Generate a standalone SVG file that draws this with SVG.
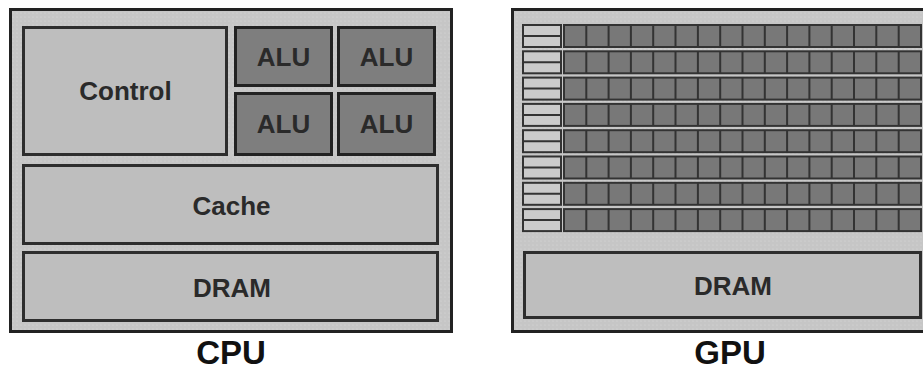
<svg xmlns="http://www.w3.org/2000/svg" xmlns:xlink="http://www.w3.org/1999/xlink" width="923" height="371" viewBox="0 0 923 371">
<style>
.frame{fill:#c6c6c6;stroke:#222;stroke-width:3}
.light{fill:#bebebe;stroke:#2e2e2e;stroke-width:3}
.alu{fill:#7e7e7e;stroke:#222;stroke-width:3}
.ctl{fill:#cbcbcb;stroke:#333;stroke-width:2}
.core{fill:#787878;stroke:#333;stroke-width:2}
.sep{stroke:#333;stroke-width:2}
.lbl{font-family:"Liberation Sans",Arial,sans-serif;font-weight:bold;font-size:26px;fill:#2a2a2a;text-anchor:middle}
.title{font-family:"Liberation Sans",Arial,sans-serif;font-weight:bold;font-size:33px;fill:#111;text-anchor:middle}
</style>
<defs>
<pattern id="dots" width="4" height="4" patternUnits="userSpaceOnUse">
<rect width="4" height="4" fill="none"/>
<circle cx="1" cy="1" r="0.6" fill="#d8d8d8"/>
</pattern>
<g id="gpuRow">
<rect class="ctl" x="523" y="0" width="38" height="22"/>
<line class="sep" x1="523" y1="11" x2="561" y2="11"/>
<rect class="core" x="564" y="0" width="357" height="22"/>
<path class="sep" d="M586.3 0v22M608.6 0v22M630.9 0v22M653.2 0v22M675.5 0v22M697.9 0v22M720.2 0v22M742.5 0v22M764.8 0v22M787.1 0v22M809.4 0v22M831.7 0v22M854 0v22M876.3 0v22M898.7 0v22"/>
</g>
</defs>
<rect width="923" height="371" fill="#fff"/>

<g id="cpu">
<rect class="frame" x="10.5" y="9.5" width="441" height="322"/>
<rect x="12" y="11" width="438" height="319" fill="url(#dots)"/>
<text class="title" x="231" y="364">CPU</text>
</g>
<g id="control">
<rect class="light" x="23.5" y="27.5" width="203" height="127"/>
<text class="lbl" x="125.5" y="100">Control</text>
</g>
<g id="alu1">
<rect class="alu" x="235.5" y="27.5" width="96" height="58"/>
<text class="lbl" x="283.5" y="66">ALU</text>
</g>
<g id="alu2">
<rect class="alu" x="338.5" y="27.5" width="96" height="58"/>
<text class="lbl" x="386.5" y="66">ALU</text>
</g>
<g id="alu3">
<rect class="alu" x="235.5" y="93.5" width="96" height="61"/>
<text class="lbl" x="283.5" y="133">ALU</text>
</g>
<g id="alu4">
<rect class="alu" x="338.5" y="93.5" width="96" height="61"/>
<text class="lbl" x="386.5" y="133">ALU</text>
</g>
<g id="cache">
<rect class="light" x="23.5" y="165.5" width="414" height="78"/>
<text class="lbl" x="231.5" y="215">Cache</text>
</g>
<g id="cpu-dram">
<rect class="light" x="23.5" y="252.5" width="414" height="68"/>
<text class="lbl" x="232" y="297">DRAM</text>
</g>

<g id="gpu">
<rect class="frame" x="512.5" y="9.5" width="420" height="322"/>
<rect x="514" y="11" width="417" height="319" fill="url(#dots)"/>
<text class="title" x="730" y="364">GPU</text>
</g>
<g id="gpu-cores">
<use xlink:href="#gpuRow" href="#gpuRow" y="25"/>
<use xlink:href="#gpuRow" href="#gpuRow" y="51.3"/>
<use xlink:href="#gpuRow" href="#gpuRow" y="77.6"/>
<use xlink:href="#gpuRow" href="#gpuRow" y="103.9"/>
<use xlink:href="#gpuRow" href="#gpuRow" y="130.2"/>
<use xlink:href="#gpuRow" href="#gpuRow" y="156.5"/>
<use xlink:href="#gpuRow" href="#gpuRow" y="182.8"/>
<use xlink:href="#gpuRow" href="#gpuRow" y="209.1"/>
</g>
<g id="gpu-dram">
<rect class="light" x="524.5" y="252.5" width="396" height="65"/>
<text class="lbl" x="733" y="295">DRAM</text>
</g>
</svg>
